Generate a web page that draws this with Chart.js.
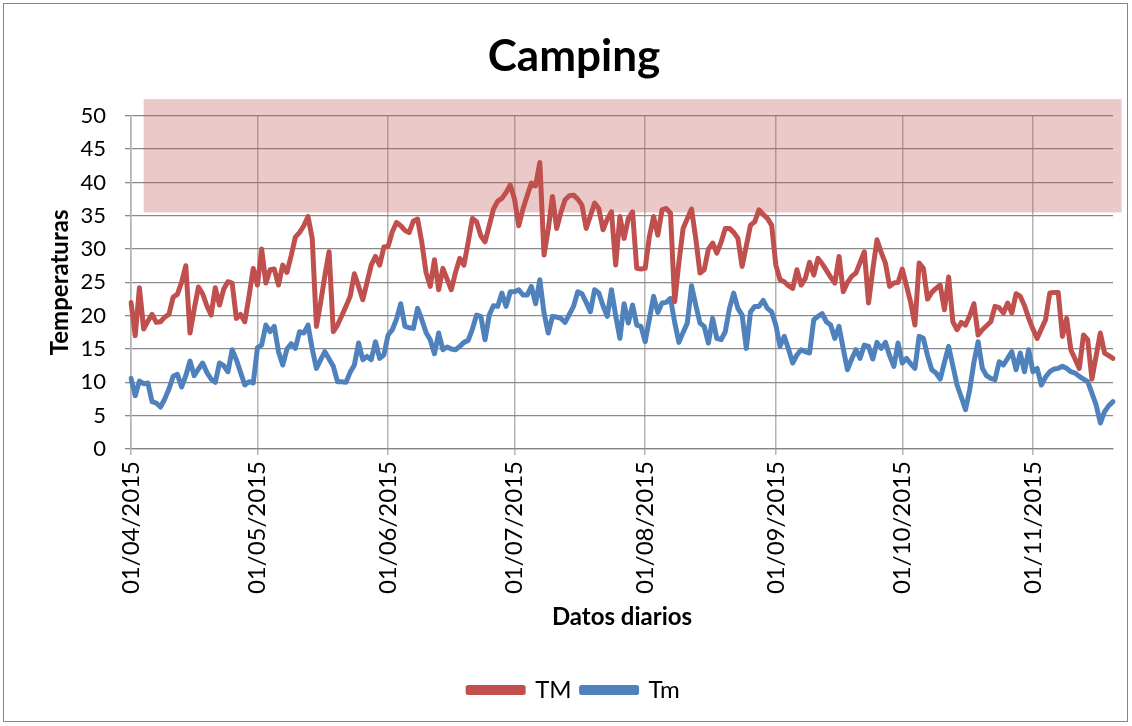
<!DOCTYPE html>
<html>
<head>
<meta charset="utf-8">
<title>Camping</title>
<script src="https://cdn.jsdelivr.net/npm/chart.js@4.4.0/dist/chart.umd.min.js"></script>
<style>
  html, body { margin: 0; padding: 0; background: #ffffff; }
  #wrap { width: 1132px; height: 726px; position: relative; }
</style>
</head>
<body>
<div id="wrap"><canvas id="chart" width="1132" height="726"></canvas></div>
<script>
// Daily series, one value per day starting on the first day below
const firstDay = [2015, 4, 1]; // year, month, day
const seriesNames = ['TM', 'Tm'];

// Daily maximum temperature (TM)
const tmax = [
  22, 17, 24.2, 18, 19.2, 20.2, 19, 19.1, 19.8, 20.2,
  22.8, 23.2, 25, 27.5, 17.4, 21, 24.3, 23.3, 21.5, 20.1,
  24.2, 21.6, 24, 25.1, 24.9, 19.6, 20.2, 19.1, 22.9, 27.1,
  24.6, 30, 24.9, 26.9, 27, 24.6, 27.6, 26.5, 29, 31.8,
  32.5, 33.5, 34.9, 31.6, 18.4, 22, 26, 29.6, 17.6, 18.6,
  20, 21.4, 22.9, 26.3, 24.4, 22.4, 25, 27.6, 28.9, 27.6,
  30.3, 30.4, 32.6, 34, 33.5, 32.8, 32.5, 34.2, 34.5, 31,
  26.5, 24.4, 28.4, 23.9, 27.1, 25.5, 23.9, 26.5, 28.6, 27.6,
  31, 34.6, 34.1, 32, 31.1, 33.5, 36, 37.2, 37.6, 38.5,
  39.6, 37.5, 33.5, 36, 38, 39.9, 39.5, 43, 29.1, 33,
  37.9, 33.1, 35.5, 37.4, 38, 38.1, 37.5, 36.6, 33.1, 35,
  36.9, 36.1, 32.9, 34.5, 35.6, 27.6, 34.9, 31.6, 34.6, 35.6,
  27.1, 27, 27.1, 31.9, 34.9, 32.1, 35.9, 36.1, 35.4, 22.1,
  28, 33.1, 34.6, 36, 31.6, 26.4, 26.9, 30, 30.9, 29.4,
  31, 33.1, 33.1, 32.5, 31.6, 27.4, 30.5, 33.6, 34.1, 35.9,
  35.2, 34.6, 33.6, 27.6, 25.4, 25.1, 24.5, 24.1, 26.9, 24.6,
  25.6, 28, 26.1, 28.6, 27.8, 26.8, 25.8, 24.9, 28.9, 23.6,
  25, 25.9, 26.4, 28, 29.6, 21.9, 26.9, 31.4, 29.5, 27.9,
  24.4, 24.9, 25, 27, 24.5, 22, 18.6, 27.9, 27.1, 22.5,
  23.5, 24.1, 24.6, 20.9, 25.8, 19.1, 17.9, 19, 18.6, 20,
  21.8, 17.1, 17.9, 18.5, 19.1, 21.4, 21.2, 20.4, 21.9, 20.4,
  23.3, 22.9, 21.5, 19.6, 18, 16.6, 18, 19.4, 23.4, 23.5,
  23.5, 16.9, 19.6, 14.9, 13.5, 12.1, 17.1, 16.4, 10.5, 14,
  17.4, 14.4, 14, 13.6
];

// Daily minimum temperature (Tm)
const tmin = [
  10.6, 8, 10.2, 9.8, 9.9, 7.1, 6.9, 6.3, 7.5, 9,
  10.9, 11.2, 9.3, 11, 13.2, 11, 12, 12.9, 11.5, 10.5,
  10, 12.9, 12.5, 11.6, 14.9, 13.4, 11.5, 9.6, 10.1, 9.9,
  15.2, 15.6, 18.6, 17.6, 18.4, 14.6, 12.6, 15, 15.8, 15.1,
  17.6, 17.4, 18.6, 15, 12.1, 13.4, 14.6, 13.5, 12.4, 10.1,
  10.1, 10, 11.5, 12.6, 15.9, 13.4, 13.9, 13.4, 16.1, 13.6,
  14.1, 17.1, 17.9, 19.5, 21.8, 18.4, 18.2, 18.1, 21.1, 19.4,
  17.5, 16.4, 14.3, 17.4, 14.9, 15.3, 15, 14.9, 15.4, 16,
  16.3, 18, 20.1, 19.9, 16.4, 20.1, 21.5, 21.4, 23.4, 21.4,
  23.6, 23.6, 23.9, 23.1, 23.1, 24.4, 21.8, 25.4, 20.4, 17.4,
  19.9, 19.8, 19.6, 19, 20.2, 21.4, 23.6, 23.3, 22, 20.6,
  23.9, 23.4, 21.5, 19.9, 23.9, 20, 16.6, 21.8, 18.9, 21.6,
  18.6, 18.4, 16.1, 19.5, 22.9, 20.5, 21.9, 22, 22.6, 19,
  16, 17.5, 18.9, 24.5, 21.6, 18.9, 18.4, 15.9, 19.6, 16.6,
  16.4, 17.6, 21.1, 23.4, 21.1, 20.1, 15.1, 20.6, 21.4, 21.4,
  22.3, 21.1, 20.6, 18.6, 15.4, 16.9, 15, 12.9, 14.1, 14.9,
  14.6, 14.4, 19.4, 19.9, 20.3, 19.1, 18.6, 16.6, 18.4, 15,
  11.9, 13.5, 14.9, 13.6, 15.6, 15.4, 13.5, 16, 15.1, 16,
  14, 12.4, 15.9, 12.9, 13.6, 12.8, 12.1, 16.9, 16.6, 14,
  11.9, 11.4, 10.5, 13, 15.4, 12.5, 9.6, 7.8, 5.9, 8.9,
  13, 16.1, 12.1, 11, 10.6, 10.4, 13.1, 12.6, 13.6, 14.6,
  11.9, 14.4, 11.6, 14.9, 11.6, 12.1, 9.6, 10.8, 11.6, 12,
  12.1, 12.4, 12.1, 11.6, 11.4, 10.9, 10.5, 10.1, 8.4, 6.6,
  3.9, 5.6, 6.5, 7.1
];

// Y axis ticks
const yTicks = [0, 5, 10, 15, 20, 25, 30, 35, 40, 45, 50];

// Highlighted comfort band: day index span and temperature span
const bandDays = [3, 235];
const bandTemps = [35.5, 52.5];

// One dd/mm/yyyy label per day
function pad2(n) { return String(n).padStart(2, '0'); }
const dayLabels = tmax.map((_, i) => {
  const d = new Date(Date.UTC(firstDay[0], firstDay[1] - 1, firstDay[2] + i));
  return pad2(d.getUTCDate()) + '/' + pad2(d.getUTCMonth() + 1) + '/' + d.getUTCFullYear();
});
const isMonthStart = i => typeof dayLabels[i] === 'string' && dayLabels[i].startsWith('01/');

const FONT = 'Lato, "Open Sans", "DejaVu Sans", sans-serif';

const bandPlugin = {
  id: 'band',
  beforeDatasetsDraw(chart) {
    const { ctx, scales: { x, y } } = chart;
    const x0 = x.getPixelForValue(bandDays[0]);
    const x1 = x.getPixelForValue(bandDays[1]);
    const y0 = y.getPixelForValue(bandTemps[1]);
    const y1 = y.getPixelForValue(bandTemps[0]);
    ctx.save();
    ctx.fillStyle = 'rgba(192, 80, 77, 0.31)';
    ctx.fillRect(x0, y0, x1 - x0, y1 - y0);
    ctx.restore();
  }
};

const framePlugin = {
  id: 'frame',
  afterDraw(chart) {
    const { ctx, width, height } = chart;
    ctx.save();
    ctx.strokeStyle = '#868686';
    ctx.lineWidth = 1;
    ctx.strokeRect(3.5, 3.5, width - 8, height - 8);
    ctx.restore();
  }
};

new Chart(document.getElementById('chart'), {
  type: 'line',
  data: {
    labels: dayLabels,
    datasets: [
      {
        label: seriesNames[0], data: tmax,
        borderColor: '#C0504D', backgroundColor: '#C0504D',
        borderWidth: 5, pointRadius: 0, tension: 0,
        borderJoinStyle: 'round', borderCapStyle: 'round'
      },
      {
        label: seriesNames[1], data: tmin,
        borderColor: '#4F81BD', backgroundColor: '#4F81BD',
        borderWidth: 5, pointRadius: 0, tension: 0,
        borderJoinStyle: 'round', borderCapStyle: 'round'
      }
    ]
  },
  options: {
    responsive: false,
    animation: false,
    events: [],
    layout: { padding: { left: 16, right: 0, top: 0, bottom: 14 } },
    plugins: {
      title: {
        display: true, text: 'Camping', color: '#000000',
        font: { family: FONT, size: 44, weight: 'bold' },
        padding: { top: 30, bottom: 33 }
      },
      legend: {
        position: 'bottom',
        labels: {
          boxWidth: 55, boxHeight: 5, padding: 10, color: '#000000',
          font: { family: FONT, size: 24 }
        }
      },
      tooltip: { enabled: false }
    },
    scales: {
      x: {
        type: 'category',
        offset: false,
        afterFit(scale) {
          scale.height = 219;
          scale.paddingLeft = 0;
          scale.paddingRight = 19;
        },
        border: { color: '#868686', width: 1.3 },
        grid: {
          drawTicks: true, tickLength: 6, lineWidth: 1.5,
          color: c => isMonthStart(c.index) ? '#B4B4B4' : 'rgba(0,0,0,0)'
        },
        ticks: {
          autoSkip: false, minRotation: 90, maxRotation: 90, padding: 6,
          color: '#000000', font: { family: FONT, size: 24 },
          callback: (v, i) => isMonthStart(i) ? dayLabels[i] : ''
        },
        title: {
          display: true, text: 'Datos diarios', color: '#000000',
          font: { family: FONT, size: 24, weight: 'bold' },
          padding: { top: 0, bottom: 36 }
        }
      },
      y: {
        min: 0, max: 50,
        afterFit(scale) { scale.width = 115; },
        afterBuildTicks(scale) { scale.ticks = yTicks.map(v => ({ value: v })); },
        border: { color: '#B4B4B4', width: 1.5 },
        grid: { color: '#8A8A8A', lineWidth: 1.3, drawTicks: true, tickLength: 6 },
        ticks: { color: '#000000', padding: 19, font: { family: FONT, size: 22 } },
        title: {
          display: true, text: 'Temperaturas', color: '#000000',
          font: { family: FONT, size: 24, weight: 'bold' },
          padding: { top: 30, bottom: 0 }
        }
      }
    }
  },
  plugins: [bandPlugin, framePlugin]
});
</script>
</body>
</html>
